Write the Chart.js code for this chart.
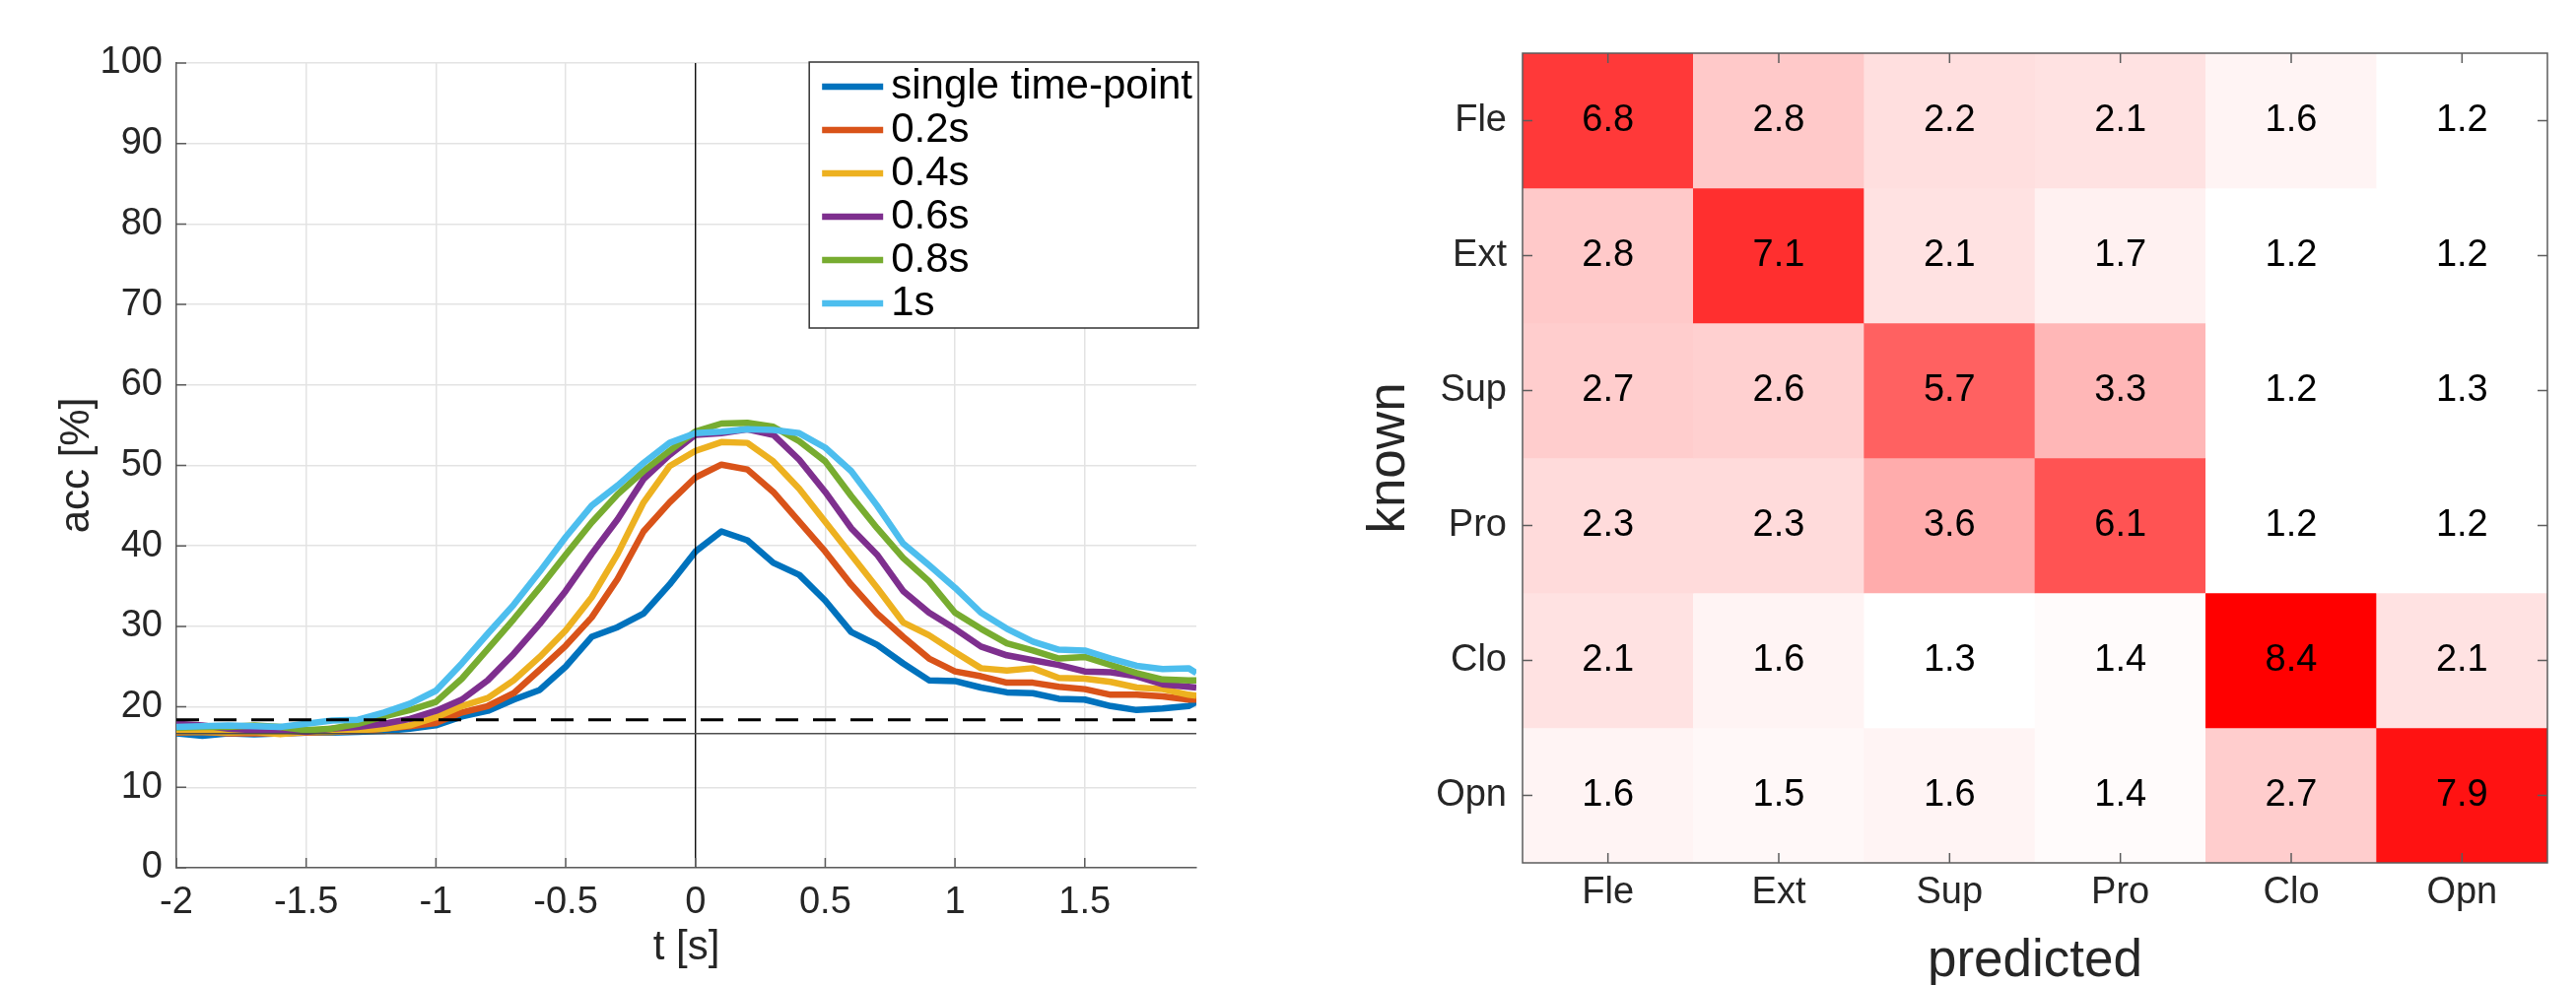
<!DOCTYPE html>
<html>
<head>
<meta charset="utf-8">
<script src="https://cdn.jsdelivr.net/npm/chart.js@4.4.0/dist/chart.umd.min.js"></script>
<style>
  html, body { margin: 0; padding: 0; background: #fff; }
  #wrap { position: relative; width: 2614px; height: 1000px; }
  .panel { position: absolute; top: 0; height: 1000px; }
  #left { left: 0; width: 1300px; }
  #right { left: 1300px; width: 1314px; }
</style>
</head>
<body>
<div id="wrap">
  <div class="panel" id="left"><canvas id="accChart"></canvas></div>
  <div class="panel" id="right"><canvas id="confChart"></canvas></div>
</div>
<script>
// ==============================
// DATA - accuracy over time
// ==============================
const timeS = [-2.0, -1.9, -1.8, -1.7, -1.6, -1.5, -1.4, -1.3, -1.2, -1.1, -1.0,
  -0.9, -0.8, -0.7, -0.6, -0.5, -0.4, -0.3, -0.2, -0.1,
  0.0, 0.1, 0.2, 0.3, 0.4, 0.5, 0.6, 0.7,
  0.8, 0.9, 1.0, 1.1, 1.2, 1.3, 1.4, 1.5, 1.6, 1.7, 1.8, 1.9, 1.93];

const accSingle = [16.7, 16.4, 16.7, 16.6, 16.7, 16.8, 16.8, 16.9, 17.0, 17.3, 17.7,
  18.8, 19.5, 20.9, 22.1, 25.0, 28.7, 29.9, 31.6, 35.2,
  39.3, 41.8, 40.7, 37.9, 36.4, 33.2, 29.3, 27.7,
  25.4, 23.3, 23.2, 22.4, 21.8, 21.7, 21.0, 20.9, 20.1, 19.6, 19.8, 20.1, 20.6];
const acc02 = [16.8, 16.9, 16.7, 16.7, 16.7, 16.8, 16.9, 17.0, 17.3, 17.6, 18.0,
  19.3, 20.1, 21.7, 24.6, 27.6, 31.1, 35.9, 41.8, 45.4,
  48.5, 50.1, 49.5, 46.7, 43.0, 39.3, 35.2, 31.6,
  28.7, 26.0, 24.4, 23.8, 23.0, 23.0, 22.5, 22.2, 21.5, 21.5, 21.3, 20.9, 20.9];
const acc04 = [16.9, 16.9, 16.8, 16.9, 16.6, 16.9, 16.9, 17.1, 17.3, 17.7, 18.7,
  20.1, 21.1, 23.3, 26.2, 29.5, 33.6, 39.0, 45.4, 49.9,
  51.8, 52.9, 52.8, 50.5, 47.1, 43.0, 38.9, 34.8,
  30.5, 28.9, 26.8, 24.8, 24.5, 24.8, 23.6, 23.5, 23.1, 22.4, 22.2, 21.5, 21.4];
const acc06 = [17.9, 17.7, 17.3, 17.1, 17.1, 16.9, 17.3, 17.5, 17.9, 18.5, 19.5,
  20.9, 23.3, 26.6, 30.3, 34.4, 39.0, 43.3, 48.3, 51.3,
  53.8, 54.0, 54.5, 53.8, 50.7, 46.7, 42.2, 38.9,
  34.4, 31.7, 29.7, 27.5, 26.4, 25.8, 25.2, 24.4, 24.3, 23.8, 22.8, 22.5, 22.4];
const acc08 = [17.4, 17.5, 17.5, 17.7, 17.5, 17.1, 17.3, 17.9, 18.8, 19.6, 20.6,
  23.5, 27.2, 30.9, 34.8, 38.9, 42.9, 46.4, 49.3, 51.8,
  54.2, 55.2, 55.3, 54.8, 53.0, 50.5, 46.2, 42.2,
  38.5, 35.6, 31.7, 29.7, 27.9, 27.0, 26.0, 26.2, 25.2, 24.2, 23.4, 23.3, 23.3];
const acc1s = [17.5, 17.6, 17.7, 17.6, 17.5, 17.9, 18.3, 18.4, 19.3, 20.4, 22.0,
  25.4, 29.1, 32.7, 36.8, 41.1, 45.0, 47.5, 50.3, 52.8,
  54.0, 54.2, 54.5, 54.4, 54.0, 52.2, 49.3, 45.0,
  40.3, 37.6, 34.8, 31.7, 29.7, 28.1, 27.1, 27.0, 26.0, 25.1, 24.7, 24.8, 24.2];

const seriesNames = ['single time-point', '0.2s', '0.4s', '0.6s', '0.8s', '1s'];
const seriesValues = [accSingle, acc02, acc04, acc06, acc08, acc1s];
const seriesColors = ['#0072BD', '#D95319', '#EDB120', '#7E2F8E', '#77AC30', '#4DBEEE'];

const chanceLevel = 16.67;
const thresholdLevel = 18.4;
const xTicks = [-2, -1.5, -1, -0.5, 0, 0.5, 1, 1.5];

// ==============================
// DATA - confusion matrix
// ==============================
const knownLabels = ['Fle', 'Ext', 'Sup', 'Pro', 'Clo', 'Opn'];
const predictedLabels = ['Fle', 'Ext', 'Sup', 'Pro', 'Clo', 'Opn'];
const confusion = [
  [6.8, 2.8, 2.2, 2.1, 1.6, 1.2],
  [2.8, 7.1, 2.1, 1.7, 1.2, 1.2],
  [2.7, 2.6, 5.7, 3.3, 1.2, 1.3],
  [2.3, 2.3, 3.6, 6.1, 1.2, 1.2],
  [2.1, 1.6, 1.3, 1.4, 8.4, 2.1],
  [1.6, 1.5, 1.6, 1.4, 2.7, 7.9]
];
// colour limits of the white -> red map
const colorMin = 1.3;
const colorMax = 8.4;

// ==============================
// SHARED STYLE
// ==============================
const FONT = '"Liberation Sans", Arial, sans-serif';
Chart.defaults.font.family = FONT;
Chart.defaults.color = '#262626';
Chart.defaults.animation = false;

// inward tick marks (+ optional full box), matlab style
const matlabAxes = {
  id: 'matlabAxes',
  afterDatasetsDraw(chart, args, opts) {
    const { ctx, chartArea: a } = chart;
    const sx = chart.scales.x, sy = chart.scales.y;
    const len = opts.len || 10;
    ctx.save();
    ctx.strokeStyle = opts.color || '#5c5c5c';
    ctx.lineWidth = opts.width || 1.5;
    ctx.beginPath();
    sx.ticks.forEach((t, i) => {
      const px = sx.getPixelForTick(i);
      ctx.moveTo(px, a.bottom); ctx.lineTo(px, a.bottom - len);
      if (opts.box) { ctx.moveTo(px, a.top); ctx.lineTo(px, a.top + len); }
    });
    sy.ticks.forEach((t, i) => {
      const py = sy.getPixelForTick(i);
      ctx.moveTo(a.left, py); ctx.lineTo(a.left + len, py);
      if (opts.box) { ctx.moveTo(a.right, py); ctx.lineTo(a.right - len, py); }
    });
    if (opts.box) ctx.rect(a.left, a.top, a.right - a.left, a.bottom - a.top);
    ctx.stroke();
    ctx.restore();
  }
};

// legend box in the north-east corner of the plot
const insideLegend = {
  id: 'insideLegend',
  afterDraw(chart, args, opts) {
    const { ctx, chartArea: a } = chart;
    const items = chart.data.datasets.filter(d => d.inLegend);
    ctx.save();
    ctx.font = opts.size + 'px ' + FONT;
    const textW = Math.max(...items.map(d => ctx.measureText(d.label).width));
    const w = opts.padLeft + opts.lineLen + opts.gap + textW + opts.padRight;
    const h = opts.rowH * items.length + opts.padV * 2;
    const right = a.right + 2, top = a.top - 1, left = right - w;
    ctx.fillStyle = '#fff';
    ctx.fillRect(left, top, w, h);
    ctx.strokeStyle = '#333';
    ctx.lineWidth = 1.5;
    ctx.strokeRect(left, top, w, h);
    items.forEach((d, i) => {
      const cy = top + opts.padV + opts.rowH * (i + 0.5);
      ctx.strokeStyle = d.borderColor;
      ctx.lineWidth = d.borderWidth;
      ctx.beginPath();
      ctx.moveTo(left + opts.padLeft, cy);
      ctx.lineTo(left + opts.padLeft + opts.lineLen, cy);
      ctx.stroke();
      ctx.fillStyle = '#000';
      ctx.textBaseline = 'middle';
      ctx.fillText(d.label, left + opts.padLeft + opts.lineLen + opts.gap, cy);
    });
    ctx.restore();
  }
};

// ==============================
// LEFT: accuracy curves
// ==============================
const tMin = timeS[0], tMax = timeS[timeS.length - 1];

const curveSets = seriesNames.map((name, k) => ({
  label: name,
  inLegend: true,
  data: timeS.map((t, i) => ({ x: t, y: seriesValues[k][i] })),
  borderColor: seriesColors[k],
  borderWidth: 6.5,
  borderJoinStyle: 'round',
  pointRadius: 0,
  tension: 0,
  order: seriesNames.length - k
}));

const refSets = [
  { label: 'chance', data: [{ x: tMin, y: chanceLevel }, { x: tMax, y: chanceLevel }],
    borderColor: '#4d4d4d', borderWidth: 1.5, pointRadius: 0, order: 0 },
  { label: 'threshold', data: [{ x: tMin, y: thresholdLevel }, { x: tMax, y: thresholdLevel }],
    borderColor: '#000', borderWidth: 3, borderDash: [23, 15], pointRadius: 0, order: 0 },
  { label: 'onset', data: [{ x: 0, y: 0 }, { x: 0, y: 100 }],
    borderColor: '#000', borderWidth: 1.3, pointRadius: 0, order: 0 }
];

new Chart(document.getElementById('accChart'), {
  type: 'line',
  data: { datasets: [...curveSets, ...refSets] },
  plugins: [matlabAxes, insideLegend],
  options: {
    responsive: true,
    maintainAspectRatio: false,
    layout: { padding: { top: 64, right: 86, left: 0, bottom: 0 } },
    plugins: {
      legend: { display: false },
      tooltip: { enabled: false },
      matlabAxes: { len: 10, box: false },
      insideLegend: { size: 42, padLeft: 13, lineLen: 62, gap: 8, padRight: 6, rowH: 44, padV: 3 }
    },
    scales: {
      x: {
        type: 'linear',
        min: tMin,
        max: tMax,
        afterBuildTicks: ax => { ax.ticks = xTicks.map(v => ({ value: v })); },
        afterFit: ax => { ax.height = 119; },
        grid: { color: '#e3e3e3', lineWidth: 1.5, drawTicks: false },
        border: { color: '#5c5c5c', width: 1.5 },
        ticks: { font: { size: 38 }, padding: 13, maxRotation: 0, autoSkip: false, callback: v => String(v) },
        title: { display: true, text: 't [s]', font: { size: 42 }, padding: { top: 0, bottom: 12 } }
      },
      y: {
        min: 0,
        max: 100,
        afterFit: ax => { ax.width = 179; },
        grid: { color: '#e3e3e3', lineWidth: 1.5, drawTicks: false },
        border: { color: '#5c5c5c', width: 1.5 },
        ticks: { stepSize: 10, font: { size: 38 }, padding: 14 },
        title: { display: true, text: 'acc [%]', font: { size: 42 }, padding: { top: 53, bottom: 0 } }
      }
    }
  }
});

// ==============================
// RIGHT: confusion matrix heatmap
// ==============================
const heat = v => {
  const f = Math.min(1, Math.max(0, (v - colorMin) / (colorMax - colorMin)));
  const g = Math.round(255 * (1 - f));
  return `rgb(255,${g},${g})`;
};

const cellValues = {
  id: 'cellValues',
  afterDatasetsDraw(chart) {
    const { ctx } = chart;
    ctx.save();
    ctx.font = '38px ' + FONT;
    ctx.fillStyle = '#000';
    ctx.textAlign = 'center';
    ctx.textBaseline = 'middle';
    chart.data.datasets.forEach((ds, i) => {
      chart.getDatasetMeta(i).data.forEach((bar, j) => {
        const { x, y, base } = bar.getProps(['x', 'y', 'base'], true);
        ctx.fillText(confusion[i][j].toFixed(1), x, (y + base) / 2);
      });
    });
    ctx.restore();
  }
};

new Chart(document.getElementById('confChart'), {
  type: 'bar',
  data: {
    labels: predictedLabels,
    datasets: knownLabels.map((row, i) => ({
      label: row,
      data: predictedLabels.map(() => [i, i + 1]),
      backgroundColor: confusion[i].map(heat),
      borderWidth: 0,
      barPercentage: 1,
      categoryPercentage: 1,
      grouped: false
    }))
  },
  plugins: [cellValues, matlabAxes],
  options: {
    responsive: true,
    maintainAspectRatio: false,
    layout: { padding: { top: 54, right: 29, left: 0, bottom: 0 } },
    plugins: {
      legend: { display: false },
      tooltip: { enabled: false },
      matlabAxes: { len: 10, box: true, color: '#5c5c5c', width: 1.5 }
    },
    scales: {
      x: {
        afterFit: ax => { ax.height = 124; },
        grid: { display: false, drawTicks: false },
        border: { display: false },
        ticks: { font: { size: 38 }, padding: 8, maxRotation: 0 },
        title: { display: true, text: 'predicted', font: { size: 53, lineHeight: 1 }, padding: { top: 0, bottom: -3 } }
      },
      y: {
        type: 'linear',
        reverse: true,
        min: 0,
        max: knownLabels.length,
        afterBuildTicks: ax => { ax.ticks = knownLabels.map((_, i) => ({ value: i + 0.5 })); },
        afterFit: ax => { ax.width = 245; },
        grid: { display: false, drawTicks: false },
        border: { display: false },
        ticks: { font: { size: 38 }, padding: 16, callback: v => knownLabels[Math.floor(v)] },
        title: { display: true, text: 'known', font: { size: 53 }, padding: { top: 79, bottom: 0 } }
      }
    }
  }
});
</script>
</body>
</html>
